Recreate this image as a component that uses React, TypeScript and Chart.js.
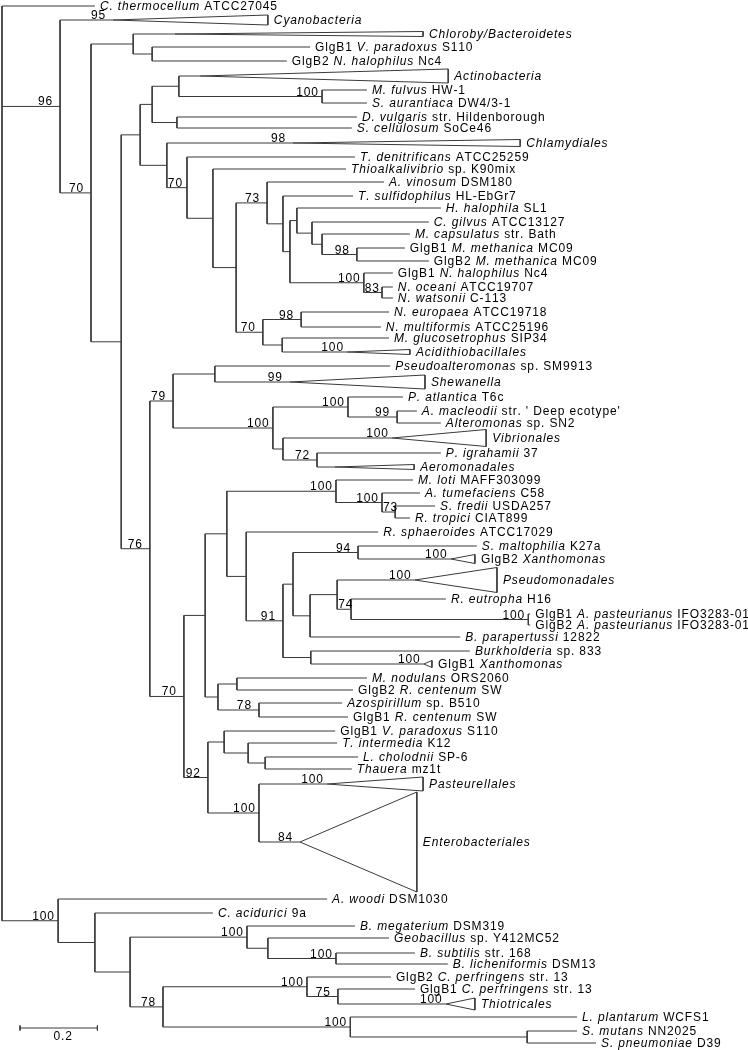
import { useEffect, useRef } from "react";
import { Chart, registerables } from "chart.js";

Chart.register(...registerables);

// ---------------- DATA ----------------
// Internal nodes of the tree: parent node index, depth from root (substitutions/site), bootstrap (%)
const nodeParent = [-1, 0, 1, 2, 3, 2, 5, 6, 7, 8, 7, 6, 11, 12, 13, 14, 15, 16, 17, 18, 19, 20, 17, 22, 14, 24, 24, 5, 27, 28, 28, 30, 31, 30, 33, 27, 35, 36, 37, 38, 39, 37, 41, 42, 43, 43, 45, 46, 47, 42, 36, 50, 50, 35, 53, 54, 55, 53, 0, 58, 59, 60, 61, 62, 60, 64, 65, 64, 67];
const nodeDepth = [0, 0.15, 0.23, 0.339, 0.388, 0.308, 0.357, 0.388, 0.457, 0.827, 0.452, 0.426, 0.478, 0.545, 0.605, 0.685, 0.726, 0.744, 0.762, 0.801, 0.827, 0.917, 0.935, 0.982, 0.674, 0.773, 0.724, 0.382, 0.442, 0.55, 0.7, 0.894, 1.021, 0.726, 0.814, 0.47, 0.525, 0.581, 0.863, 0.982, 1.016, 0.631, 0.726, 0.752, 0.92, 0.796, 0.866, 0.902, 1.36, 0.798, 0.558, 0.607, 0.664, 0.532, 0.574, 0.636, 0.68, 0.664, 0.145, 0.24, 0.331, 0.633, 0.687, 0.863, 0.416, 0.788, 0.868, 0.9, 1.357];
const nodeBoot: (number | null)[] = [null, 96, 70, null, null, null, null, null, null, 100, null, null, 70, null, null, 73, null, null, null, null, null, 98, 100, 83, 70, 98, null, 76, 79, null, 100, 100, 99, null, 72, 70, null, null, 100, 100, 73, null, 91, null, 94, null, null, 74, 100, null, null, null, 78, 92, null, null, null, 100, 100, null, null, 100, null, 100, 78, 100, 75, 100, null];

// Single sequences (leaves): label (*italic*), parent node, row position, tip depth
const leafNames = [
  "*C. thermocellum* ATCC27045",
  "GlgB1 *V. paradoxus* S110",
  "GlgB2 *N. halophilus* Nc4",
  "*M. fulvus* HW-1",
  "*S. aurantiaca* DW4/3-1",
  "*D. vulgaris* str. Hildenborough",
  "*S. cellulosum* SoCe46",
  "*T. denitrificans* ATCC25259",
  "*Thioalkalivibrio* sp. K90mix",
  "*A. vinosum* DSM180",
  "*T. sulfidophilus* HL-EbGr7",
  "*H. halophila* SL1",
  "*C. gilvus* ATCC13127",
  "*M. capsulatus* str. Bath",
  "GlgB1 *M. methanica* MC09",
  "GlgB2 *M. methanica* MC09",
  "GlgB1 *N. halophilus* Nc4",
  "*N. oceani* ATCC19707",
  "*N. watsonii* C-113",
  "*N. europaea* ATCC19718",
  "*N. multiformis* ATCC25196",
  "*M. glucosetrophus* SIP34",
  "*Pseudoalteromonas* sp. SM9913",
  "*P. atlantica* T6c",
  "*A. macleodii* str. ' Deep ecotype'",
  "*Alteromonas* sp. SN2",
  "*P. igrahamii* 37",
  "*M. loti* MAFF303099",
  "*A. tumefaciens* C58",
  "*S. fredii* USDA257",
  "*R. tropici* CIAT899",
  "*R. sphaeroides* ATCC17029",
  "*S. maltophilia* K27a",
  "*R. eutropha* H16",
  "GlgB1 *A. pasteurianus* IFO3283-01",
  "GlgB2 *A. pasteurianus* IFO3283-01",
  "*B. parapertussi* 12822",
  "*Burkholderia* sp. 833",
  "*M. nodulans* ORS2060",
  "GlgB2 *R. centenum* SW",
  "*Azospirillum* sp. B510",
  "GlgB1 *R. centenum* SW",
  "GlgB1 *V. paradoxus* S110",
  "*T. intermedia* K12",
  "*L. cholodnii* SP-6",
  "*Thauera* mz1t",
  "*A. woodi* DSM1030",
  "*C. acidurici* 9a",
  "*B. megaterium* DSM319",
  "*Geobacillus* sp. Y412MC52",
  "*B. subtilis* str. 168",
  "*B. licheniformis* DSM13",
  "GlgB2 *C. perfringens* str. 13",
  "GlgB1 *C. perfringens* str. 13",
  "*L. plantarum* WCFS1",
  "*S. mutans* NN2025",
  "*S. pneumoniae* D39",
];
const leafParent = [0, 4, 4, 9, 9, 10, 10, 12, 13, 15, 16, 18, 19, 20, 21, 21, 22, 23, 23, 25, 25, 26, 29, 31, 32, 32, 34, 38, 39, 40, 40, 41, 44, 47, 48, 48, 45, 49, 51, 51, 52, 52, 54, 55, 56, 56, 58, 59, 61, 62, 63, 63, 65, 66, 67, 68, 68];
const leafRow = [6, 47, 61, 90, 103, 117, 128, 157, 169, 182, 196, 208, 222, 234, 248, 261, 273, 287, 298, 312, 327, 338, 366, 397, 411, 423, 453, 480, 493, 506, 518, 532, 546, 599, 614, 625, 637, 651, 678, 690, 703, 717, 731, 743, 757, 769, 899, 913, 926, 938, 953, 964, 977, 989, 1017, 1031, 1043];
const leafTip = [0.24, 0.796, 0.736, 0.943, 0.943, 0.917, 0.904, 0.912, 0.889, 0.987, 0.907, 1.134, 1.103, 1.054, 1.041, 1.103, 1.01, 1.01, 1.01, 1.0, 0.979, 1.0, 1.003, 1.036, 1.072, 1.134, 1.134, 1.062, 1.08, 1.119, 1.054, 0.972, 1.227, 1.147, 1.365, 1.365, 1.184, 1.209, 0.943, 0.907, 0.879, 0.894, 0.861, 0.866, 0.92, 0.904, 0.84, 0.545, 0.912, 1.0, 1.067, 1.152, 1.005, 1.067, 1.486, 1.486, 1.535];

// Collapsed clades (triangles): label, parent node, row, apex depth, tip depth, half height (rows), bootstrap
const cladeNames = ["*Cyanobacteria*", "*Chloroby/Bacteroidetes*", "*Actinobacteria*", "*Chlamydiales*", "*Acidithiobacillales*", "*Shewanella*", "*Vibrionales*", "*Aeromonadales*", "GlgB2 *Xanthomonas*", "*Pseudomonadales*", "GlgB1 *Xanthomonas*", "*Pasteurellales*", "*Enterobacteriales*", "*Thiotricales*"];
const cladeParent = [1, 3, 8, 11, 26, 29, 33, 34, 44, 46, 49, 57, 57, 66];
const cladeRow = [20, 34, 76, 143, 352, 382, 438, 467, 559, 580, 664, 784, 842, 1004];
const cladeApex = [0.287, 0.447, 0.512, 0.752, 0.892, 0.744, 1.008, 0.86, 1.16, 1.067, 1.09, 0.84, 0.77, 1.147];
const cladeTip = [0.687, 1.088, 1.153, 1.339, 1.054, 1.093, 1.251, 1.065, 1.222, 1.279, 1.111, 1.088, 1.072, 1.222];
const cladeHalf = [5, 2.5, 7, 3.5, 2.5, 7, 8.5, 2.5, 4.5, 12.5, 3.5, 7, 50, 6];
const cladeBoot: (number | null)[] = [95, null, null, 98, 100, 99, 100, null, 100, 100, 100, 100, 84, 100];

// Scale bar
const scaleBarStart = 0.0465;
const scaleBarLength = 0.2;
const scaleBarRow = 1028;
const scaleBarLabel = "0.2";

// Axis ranges
const X_MIN = -0.0052;
const X_MAX = 1.9277;
const Y_MIN = 0;
const Y_MAX = 1050;

// ---------------- LAYOUT (derived) ----------------
type Child = { kind: "node" | "leaf" | "clade"; i: number };
const children: Child[][] = nodeParent.map(() => []);
nodeParent.forEach((p, i) => { if (p >= 0) children[p].push({ kind: "node", i }); });
leafParent.forEach((p, i) => children[p].push({ kind: "leaf", i }));
cladeParent.forEach((p, i) => children[p].push({ kind: "clade", i }));

const nodeY: number[] = nodeParent.map(() => NaN);
function childY(c: Child): number {
  if (c.kind === "leaf") return leafRow[c.i];
  if (c.kind === "clade") return cladeRow[c.i];
  return computeNodeY(c.i);
}
function computeNodeY(n: number): number {
  if (!isNaN(nodeY[n])) return nodeY[n];
  const ys = children[n].map(childY);
  nodeY[n] = (Math.min(...ys) + Math.max(...ys)) / 2;
  return nodeY[n];
}
nodeParent.forEach((_, i) => computeNodeY(i));

function childStart(c: Child): number {
  if (c.kind === "leaf") return leafTip[c.i];
  if (c.kind === "clade") return cladeApex[c.i];
  return nodeDepth[c.i];
}

const GAP = { x: NaN, y: NaN };
const branchPoints: { x: number; y: number }[] = [];
nodeParent.forEach((_, n) => {
  const ys = children[n].map(childY);
  branchPoints.push({ x: nodeDepth[n], y: Math.min(...ys) }, { x: nodeDepth[n], y: Math.max(...ys) }, GAP);
  children[n].forEach((c) => {
    const y = childY(c);
    branchPoints.push({ x: nodeDepth[n], y }, { x: childStart(c), y }, GAP);
  });
});

const trianglePoints: { x: number; y: number }[] = [];
cladeNames.forEach((_, i) => {
  trianglePoints.push(
    { x: cladeApex[i], y: cladeRow[i] },
    { x: cladeTip[i], y: cladeRow[i] - cladeHalf[i] },
    { x: cladeTip[i], y: cladeRow[i] + cladeHalf[i] },
    { x: cladeApex[i], y: cladeRow[i] },
    GAP
  );
});

const scaleEnd = scaleBarStart + scaleBarLength;
const scalePoints = [
  { x: scaleBarStart, y: scaleBarRow }, { x: scaleEnd, y: scaleBarRow }, GAP,
  { x: scaleBarStart, y: scaleBarRow - 2.5 }, { x: scaleBarStart, y: scaleBarRow + 2.5 }, GAP,
  { x: scaleEnd, y: scaleBarRow - 2.5 }, { x: scaleEnd, y: scaleBarRow + 2.5 },
];

// ---------------- TEXT ----------------
const FONT_SIZE = 12;
const LETTER_SPACING = 0.85;
const FAMILY = '"Liberation Sans", Arial, Helvetica, sans-serif';
const LINE_COLOR = "#3a3a3a";

function runs(text: string): [string, boolean][] {
  const out: [string, boolean][] = [];
  text.split("*").forEach((t, k) => { if (t) out.push([t, k % 2 === 1]); });
  return out;
}
function spacedWidth(ctx: CanvasRenderingContext2D, t: string): number {
  let w = 0;
  for (const ch of t) w += ctx.measureText(ch).width + LETTER_SPACING;
  return w - LETTER_SPACING;
}
function drawSpaced(ctx: CanvasRenderingContext2D, t: string, x: number, y: number): number {
  let cx = x;
  for (const ch of t) {
    ctx.fillText(ch, cx, y);
    cx += ctx.measureText(ch).width + LETTER_SPACING;
  }
  return cx;
}
function drawRich(ctx: CanvasRenderingContext2D, text: string, x: number, y: number) {
  let cx = x;
  for (const [t, it] of runs(text)) {
    ctx.font = `${it ? "italic " : ""}${FONT_SIZE}px ${FAMILY}`;
    cx = drawSpaced(ctx, t, cx, y);
  }
}

const treeText = {
  id: "treeText",
  afterDatasetsDraw(chart: any) {
    const ctx: CanvasRenderingContext2D = chart.ctx;
    const xs = chart.scales.x;
    const ys = chart.scales.y;
    ctx.save();
    ctx.fillStyle = "#000";
    ctx.textAlign = "left";
    ctx.textBaseline = "alphabetic";
    const mid = FONT_SIZE * 0.36;
    leafNames.forEach((name, i) => {
      drawRich(ctx, name, xs.getPixelForValue(leafTip[i]) + 5, ys.getPixelForValue(leafRow[i]) + mid);
    });
    cladeNames.forEach((name, i) => {
      drawRich(ctx, name, xs.getPixelForValue(cladeTip[i]) + 6, ys.getPixelForValue(cladeRow[i]) + mid);
    });
    ctx.font = `${FONT_SIZE}px ${FAMILY}`;
    const boot = (v: number, depth: number, parentDepth: number, y: number) => {
      const t = String(v);
      const w = spacedWidth(ctx, t);
      let left = xs.getPixelForValue(depth) - 15 - w / 2;
      const minLeft = xs.getPixelForValue(parentDepth) + 1;
      if (left < minLeft) left = minLeft;
      drawSpaced(ctx, t, left, ys.getPixelForValue(y) - 1);
    };
    nodeBoot.forEach((v, n) => {
      if (v !== null && nodeParent[n] >= 0) boot(v, nodeDepth[n], nodeDepth[nodeParent[n]], nodeY[n]);
    });
    cladeBoot.forEach((v, i) => {
      if (v !== null) boot(v, cladeApex[i], nodeDepth[cladeParent[i]], cladeRow[i]);
    });
    const sw = spacedWidth(ctx, scaleBarLabel);
    const cx = xs.getPixelForValue(scaleBarStart + scaleBarLength / 2) + 4;
    drawSpaced(ctx, scaleBarLabel, cx - sw / 2, ys.getPixelForValue(scaleBarRow) + 12);
    ctx.restore();
  },
};

export default function App() {
  const canvasRef = useRef<HTMLCanvasElement | null>(null);
  useEffect(() => {
    if (!canvasRef.current) return;
    const lineDs = (data: any[]) => ({
      data,
      borderColor: LINE_COLOR,
      borderWidth: 1,
      pointRadius: 0,
      pointHoverRadius: 0,
      fill: false,
      tension: 0,
      spanGaps: false,
    });
    const chart = new Chart(canvasRef.current, {
      type: "line",
      data: { datasets: [lineDs(branchPoints), lineDs(trianglePoints), lineDs(scalePoints)] as any },
      options: {
        animation: false,
        responsive: true,
        maintainAspectRatio: false,
        events: [],
        layout: { padding: 0 },
        plugins: { legend: { display: false }, tooltip: { enabled: false } },
        scales: {
          x: { type: "linear", display: false, min: X_MIN, max: X_MAX },
          y: { type: "linear", display: false, min: Y_MIN, max: Y_MAX, reverse: true },
        },
      },
      plugins: [treeText],
    });
    return () => chart.destroy();
  }, []);
  return (
    <div style={{ position: "absolute", left: 0, top: 0, width: 748, height: 1050, background: "#fff" }}>
      <canvas ref={canvasRef} />
    </div>
  );
}
